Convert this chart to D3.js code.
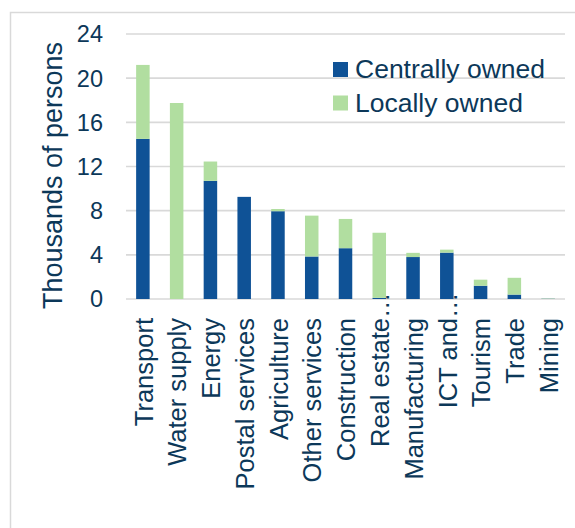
<!DOCTYPE html>
<html>
<head>
<meta charset="utf-8">
<script src="https://cdn.jsdelivr.net/npm/d3@7"></script>
<style>
  html, body { margin: 0; padding: 0; background: #fff; }
  svg { display: block; font-family: "Liberation Sans", Arial, sans-serif; }
</style>
</head>
<body>
<svg id="chart" width="575" height="528"></svg>
<script>
// Employment in state-owned enterprises by sector (thousands of persons)
const categories = ["Transport", "Water supply", "Energy", "Postal services", "Agriculture",
  "Other services", "Construction", "Real estate…", "Manufacturing", "ICT and…",
  "Tourism", "Trade", "Mining"];
const centrallyOwned = [14.5, 0, 10.7, 9.25, 7.95, 3.85, 4.6, 0.1, 3.8, 4.2, 1.2, 0.4, 0.02];
const locallyOwned   = [6.7, 17.75, 1.75, 0, 0.2, 3.7, 2.65, 5.9, 0.38, 0.27, 0.55, 1.52, 0.03];
const yTicks = [0, 4, 8, 12, 16, 20, 24];
const seriesNames = ["Centrally owned", "Locally owned"];
const seriesColors = ["#0f5296", "#b1dea0"];
const textColor = "#0c3859";
const gridColor = "#d9d9d9";

const svg = d3.select("#chart");

// frame around the chart area
svg.append("path")
  .attr("d", "M10.5,528 L10.5,12.5 L575,12.5")
  .attr("fill", "none")
  .attr("stroke", gridColor)
  .attr("stroke-width", 1.5);

const plot = { left: 126, right: 565, top: 34, bottom: 299 };

const x = d3.scaleBand()
  .domain(categories)
  .range([plot.left, plot.right])
  .paddingInner(0.6)
  .paddingOuter(0.3);

const y = d3.scaleLinear()
  .domain([0, 24])
  .range([plot.bottom, plot.top]);

// horizontal gridlines
svg.append("g")
  .selectAll("line")
  .data(yTicks)
  .join("line")
  .attr("x1", plot.left)
  .attr("x2", plot.right)
  .attr("y1", d => y(d))
  .attr("y2", d => y(d))
  .attr("stroke", gridColor)
  .attr("stroke-width", 1.6);

// y tick labels
svg.append("g")
  .selectAll("text")
  .data(yTicks)
  .join("text")
  .attr("x", 103)
  .attr("y", d => y(d))
  .attr("dy", "0.36em")
  .attr("text-anchor", "end")
  .attr("font-size", 23.5)
  .attr("fill", textColor)
  .text(d => d);

// y axis title
svg.append("text")
  .attr("transform", "translate(62,175.5) rotate(-90)")
  .attr("text-anchor", "middle")
  .attr("font-size", 27)
  .attr("fill", textColor)
  .text("Thousands of persons");

// stacked bars
const rows = categories.map((c, i) => ({ cat: c, central: centrallyOwned[i], local: locallyOwned[i] }));
const stack = d3.stack().keys(["central", "local"]);
const layers = stack(rows);

svg.append("g")
  .selectAll("g")
  .data(layers)
  .join("g")
  .attr("fill", (d, i) => seriesColors[i])
  .selectAll("rect")
  .data(d => d)
  .join("rect")
  .attr("x", d => x(d.data.cat))
  .attr("width", x.bandwidth())
  .attr("y", d => y(d[1]))
  .attr("height", d => Math.max(0, y(d[0]) - y(d[1])));

// x category labels, rotated
const labels = svg.append("g")
  .selectAll("text")
  .data(categories)
  .join("text")
  .attr("transform", d => `translate(${x(d) + x.bandwidth() / 2},318) rotate(-90)`)
  .attr("dy", "0.38em")
  .attr("text-anchor", "end")
  .attr("font-size", 25.5)
  .attr("fill", textColor)
  .text(d => d);

// truncated labels: let the ellipsis run past the common label edge
labels.each(function (d) {
  if (d.endsWith("…")) {
    const w = this.getSubStringLength(d.length - 1, 1);
    d3.select(this).attr("transform",
      `translate(${x(d) + x.bandwidth() / 2},${318 - w}) rotate(-90)`);
  }
});

// legend
const legend = svg.append("g")
  .selectAll("g")
  .data(seriesNames)
  .join("g")
  .attr("transform", (d, i) => `translate(333,${62 + i * 33.5})`);

legend.append("rect")
  .attr("width", 15)
  .attr("height", 15)
  .attr("fill", (d, i) => seriesColors[i]);

legend.append("text")
  .attr("x", 22)
  .attr("y", 16)
  .attr("font-size", 26.5)
  .attr("fill", textColor)
  .text(d => d);
</script>
</body>
</html>
